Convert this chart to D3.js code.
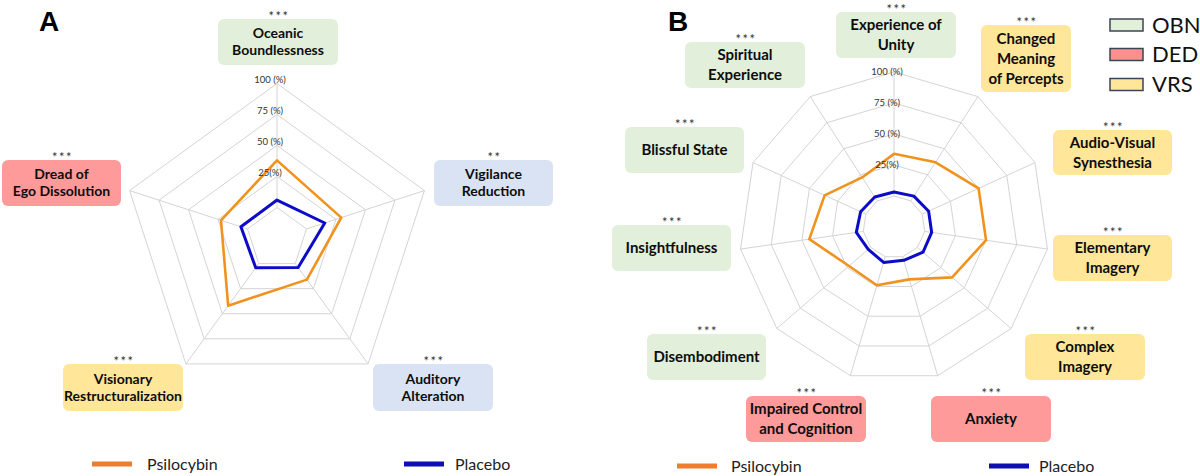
<!DOCTYPE html>
<html><head><meta charset="utf-8">
<script src="https://cdn.jsdelivr.net/npm/d3@7"></script>
<style>body{margin:0;background:#fff} svg{display:block;font-family:Lato,"Open Sans",sans-serif}</style>
</head><body><svg id="chart" width="1200" height="476"></svg>
<script>
// ---------------- data ----------------
const axesA = ["Oceanic\nBoundlessness", "Vigilance\nReduction", "Auditory\nAlteration", "Visionary\nRestructuralization", "Dread of\nEgo Dissolution"];
const groupsA = ["OBN", "VIR", "AUA", "VRS", "DED"];
const sigA = ["***", "**", "***", "***", "***"];
const psilocybinA = [38, 29.5, 16, 42, 22.5];
const placeboA = [6, 15.5, 4, 4.2, 5.6];

const axesB = ["Experience of\nUnity", "Changed\nMeaning\nof Percepts", "Audio-Visual\nSynesthesia", "Elementary\nImagery", "Complex\nImagery", "Anxiety", "Impaired Control\nand Cognition", "Disembodiment", "Insightfulness", "Blissful State", "Spiritual\nExperience"];
const groupsB = ["OBN", "VRS", "VRS", "VRS", "VRS", "DED", "DED", "OBN", "OBN", "OBN", "OBN"];
const sigB = ["***", "***", "***", "***", "***", "***", "***", "***", "***", "***", "***"];
const psilocybinB = [34, 37, 50, 50, 37, 19, 24, 23, 44, 36.5, 22.5];
const placeboB = [3.2, 4.6, 5.7, 5.7, 6, 3, 4.8, 2.5, 5.7, 4.6, 3.7];

const gridValues = [0, 25, 50, 75, 100];
const tickValues = [25, 50, 75, 100];
const tickLabels = ["25(%)", "50 (%)", "75 (%)", "100 (%)"];
const seriesNames = ["Psilocybin", "Placebo"];
const groupLegend = ["OBN", "DED", "VRS"];
const panelLetters = ["A", "B"];

// ---------------- styles / layout ----------------
const groupFill = {OBN: "#e2efda", DED: "#ff9a9a", VRS: "#ffe699", VIR: "#dae3f3", AUA: "#dae3f3"};
const legendFill = {OBN: "#e2f0d9", DED: "#ff8f8f", VRS: "#ffe699"};
const lineColor = ["#f0921e", "#0c0cc8"];
const legendLineColor = ["#ed7d31", "#0e0eb4"];

const panels = [
  {axes: axesA, groups: groupsA, sig: sigA, series: [psilocybinA, placeboA],
   cx: 277, cy: 238.5, R: 155, font: 14, lh: 17,
   boxes: [[218, 19, 120, 46], [434, 160, 119, 46], [373, 364, 120, 47], [63, 364, 120, 47], [2, 160, 119, 46]],
   legend: [[92, 147], [404, 455]], legendY: 464},
  {axes: axesB, groups: groupsB, sig: sigB, series: [psilocybinB, placeboB],
   cx: 894, cy: 227, R: 155, font: 15, lh: 20,
   boxes: [[836, 12, 120, 46], [981, 25, 90, 67], [1053, 130, 119, 45], [1053, 235, 119, 46], [1025, 334, 120, 46],
           [931, 396, 120, 46], [746, 396, 120, 46], [647, 334, 119, 46], [612, 225, 119, 46], [625, 127, 119, 46], [685, 42, 120, 46]],
   legend: [[677, 731], [989, 1039]], legendY: 466}
];

const svg = d3.select("#chart");

panels.forEach((p, pi) => {
  const n = p.axes.length;
  const step = 2 * Math.PI / n;
  const r = d3.scaleLinear().domain([-25, 100]).range([0, p.R]);
  const g = svg.append("g").attr("transform", `translate(${p.cx},${p.cy})`);

  // grid rings
  const ring = d3.lineRadial().angle((d, i) => i * step).radius(d => r(d)).curve(d3.curveLinearClosed);
  g.selectAll(".ring").data(gridValues).join("path")
    .attr("d", v => ring(d3.range(n).map(() => v)))
    .attr("fill", "none").attr("stroke", "#d4d4d4").attr("stroke-width", 1);

  // spokes
  g.selectAll(".spoke").data(d3.range(n)).join("line")
    .attr("x1", i => r(0) * Math.sin(i * step)).attr("y1", i => -r(0) * Math.cos(i * step))
    .attr("x2", i => r(100) * Math.sin(i * step)).attr("y2", i => -r(100) * Math.cos(i * step))
    .attr("stroke", "#d4d4d4").attr("stroke-width", 1);

  // series
  p.series.forEach((vals, si) => {
    g.append("path").attr("d", ring(vals))
      .attr("fill", "none").attr("stroke", lineColor[si])
      .attr("stroke-width", si === 0 ? 2.6 : 3).attr("stroke-linejoin", "round");
  });

  // tick labels
  g.selectAll(".tick").data(tickValues).join("text")
    .attr("x", -7).attr("y", v => -r(v) + (pi === 0 ? -1 : 2.5))
    .attr("text-anchor", "middle").attr("font-size", 9.5).attr("fill", "#333")
    .text((v, i) => tickLabels[i]);

  // category boxes
  p.axes.forEach((name, i) => {
    const [bx, by, bw, bh] = p.boxes[i];
    svg.append("rect").attr("x", bx).attr("y", by).attr("width", bw).attr("height", bh)
      .attr("rx", 6).attr("fill", groupFill[p.groups[i]]);
    svg.append("text").attr("x", bx + bw / 2 + 1).attr("y", by + 1.5)
      .attr("text-anchor", "middle").attr("font-size", 13).attr("letter-spacing", 1.5)
      .attr("fill", "#333").text(p.sig[i]);
    const lines = name.split("\n");
    const t = svg.append("text").attr("text-anchor", "middle").attr("font-weight", "bold")
      .attr("font-size", p.font).attr("fill", "#0d0d0d");
    lines.forEach((ln, li) => {
      t.append("tspan").attr("x", bx + bw / 2)
        .attr("y", by + bh / 2 + (li - (lines.length - 1) / 2) * p.lh)
        .attr("dy", "0.35em").text(ln);
    });
  });

  // bottom legend
  seriesNames.forEach((s, si) => {
    const [lx, tx] = p.legend[si];
    svg.append("line").attr("x1", lx).attr("x2", lx + 40).attr("y1", p.legendY).attr("y2", p.legendY)
      .attr("stroke", legendLineColor[si]).attr("stroke-width", 5);
    svg.append("text").attr("x", tx).attr("y", p.legendY).attr("dy", "0.35em")
      .attr("font-size", 16).attr("fill", "#222").text(s);
  });

  // panel letter
  svg.append("text").attr("x", pi === 0 ? 39 : 668).attr("y", 31)
    .attr("font-size", 28).attr("font-weight", "bold").attr("font-family", "Liberation Sans, Arial, sans-serif")
    .attr("fill", "#000").text(panelLetters[pi]);
});

// group legend (top right)
groupLegend.forEach((k, i) => {
  const y = [25, 54.5, 84.5][i];
  svg.append("rect").attr("x", 1110).attr("y", y - 6).attr("width", 33).attr("height", 12)
    .attr("fill", legendFill[k]).attr("stroke", "#3a4556").attr("stroke-width", 1.5);
  svg.append("text").attr("x", 1152).attr("y", y).attr("dy", "0.36em")
    .attr("font-size", 22).attr("fill", "#111").text(k);
});
</script></body></html>
